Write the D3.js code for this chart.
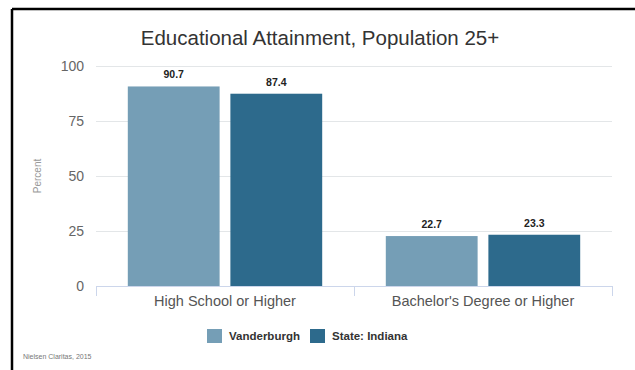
<!DOCTYPE html>
<html>
<head>
<meta charset="utf-8">
<script src="https://cdn.jsdelivr.net/npm/d3@7"></script>
<style>
  html, body { margin: 0; padding: 0; background: #fff; }
  svg { display: block; font-family: "Liberation Sans", Arial, sans-serif; }
</style>
</head>
<body>
<svg id="chart" width="635" height="370"></svg>
<script>
// Data
const categories = ["High School or Higher", "Bachelor's Degree or Higher"];
const seriesNames = ["Vanderburgh", "State: Indiana"];
const vanderburgh = [90.7, 22.7];
const indiana = [87.4, 23.3];
const yTicks = [0, 25, 50, 75, 100];

const colors = ["#759eb6", "#2d6a8c"];

const width = 635;
const height = 370;
const margin = { top: 66, right: 23, bottom: 84, left: 96 };

const svg = d3.select("#chart");

// frame lines (left and top)
svg.append("line")
  .attr("x1", 12).attr("x2", 12).attr("y1", 9).attr("y2", height)
  .style("stroke", "#000").style("stroke-width", 2.5);
svg.append("line")
  .attr("x1", 12).attr("x2", width).attr("y1", 9).attr("y2", 9)
  .style("stroke", "#000").style("stroke-width", 2.5);

const scaleX = d3.scaleBand()
  .domain(categories)
  .range([margin.left, width - margin.right])
  .paddingInner(0)
  .paddingOuter(0);

const scaleSeries = d3.scaleBand()
  .domain(seriesNames)
  .range([0, scaleX.bandwidth()])
  .paddingInner(0.105)
  .paddingOuter(0.31);

const scaleY = d3.scaleLinear()
  .domain([0, 100])
  .range([height - margin.bottom, margin.top]);

// gridlines + y labels
const yAxisGroup = svg.append("g")
  .attr("transform", `translate(${margin.left},0)`)
  .call(
    d3.axisLeft(scaleY)
      .tickValues(yTicks)
      .tickSize(-(width - margin.left - margin.right))
      .tickPadding(12)
  )
  .call(g => g.select(".domain").remove())
  .call(g => g.selectAll(".tick line")
    .style("stroke", "#e3e6e8")
    .style("stroke-width", 1)
    .style("shape-rendering", "crispEdges"))
  .call(g => g.selectAll(".tick text")
    .style("fill", "#666")
    .style("font-size", "14px"));
yAxisGroup.selectAll(".tick").filter(d => d === 0).select("line").remove();

// y axis title
svg.append("text")
  .attr("transform", `translate(41,${scaleY(50)}) rotate(-90)`)
  .attr("text-anchor", "middle")
  .style("fill", "#999")
  .style("font-size", "10px")
  .text("Percent");

// bars
const rows = categories.map((c, i) => ({ cat: c, vals: [vanderburgh[i], indiana[i]] }));

const groups = svg.selectAll("g.cat")
  .data(rows)
  .join("g")
  .attr("class", "cat")
  .attr("transform", d => `translate(${scaleX(d.cat)},0)`);

groups.selectAll("rect")
  .data(d => d.vals.map((v, j) => ({ name: seriesNames[j], v: v, j: j })))
  .join("rect")
  .attr("x", d => scaleSeries(d.name))
  .attr("y", d => scaleY(d.v))
  .attr("width", scaleSeries.bandwidth())
  .attr("height", d => scaleY(0) - scaleY(d.v))
  .style("fill", d => colors[d.j]);

groups.selectAll("text.val")
  .data(d => d.vals.map((v, j) => ({ name: seriesNames[j], v: v })))
  .join("text")
  .attr("class", "val")
  .attr("x", d => scaleSeries(d.name) + scaleSeries.bandwidth() / 2)
  .attr("y", d => scaleY(d.v) - 8)
  .attr("text-anchor", "middle")
  .style("font-size", "10.5px")
  .style("font-weight", "bold")
  .style("fill", "#222")
  .text(d => d.v.toFixed(1));

// x axis
svg.append("g")
  .attr("transform", `translate(0,${scaleY(0)})`)
  .call(
    d3.axisBottom(scaleX)
      .tickValues([])
      .tickSizeOuter(0)
  )
  .call(g => g.select(".domain")
    .style("stroke", "#ccd6eb")
    .style("shape-rendering", "crispEdges"));

// boundaries between categories
const edges = [margin.left, scaleX(categories[1]), width - margin.right];
svg.append("g").selectAll("line")
  .data(edges)
  .join("line")
  .attr("x1", d => d).attr("x2", d => d)
  .attr("y1", scaleY(0)).attr("y2", scaleY(0) + 10)
  .style("stroke", "#ccd6eb")
  .style("shape-rendering", "crispEdges");

svg.append("g").selectAll("text")
  .data(categories)
  .join("text")
  .attr("x", d => scaleX(d) + scaleX.bandwidth() / 2)
  .attr("y", scaleY(0) + 20)
  .attr("text-anchor", "middle")
  .style("fill", "#555")
  .style("font-size", "14.5px")
  .text(d => d);

// title
svg.append("text")
  .attr("x", 320)
  .attr("y", 45)
  .attr("text-anchor", "middle")
  .style("fill", "#333")
  .style("font-size", "20.5px")
  .text("Educational Attainment, Population 25+");

// legend
const legend = svg.append("g").attr("transform", "translate(0,336)");
const legendX = [207, 310];
const items = legend.selectAll("g")
  .data(seriesNames)
  .join("g")
  .attr("transform", (d, i) => `translate(${legendX[i]},0)`);
items.append("rect")
  .attr("x", 0).attr("y", -7)
  .attr("width", 15).attr("height", 14)
  .style("fill", (d, i) => colors[i]);
items.append("text")
  .attr("x", 22).attr("y", 4)
  .style("font-size", "11.5px")
  .style("font-weight", "bold")
  .style("fill", "#333")
  .text(d => d);

// source
svg.append("text")
  .attr("x", 23)
  .attr("y", 359)
  .style("font-size", "7px")
  .style("fill", "#777")
  .text("Nielsen Claritas, 2015");
</script>
</body>
</html>
